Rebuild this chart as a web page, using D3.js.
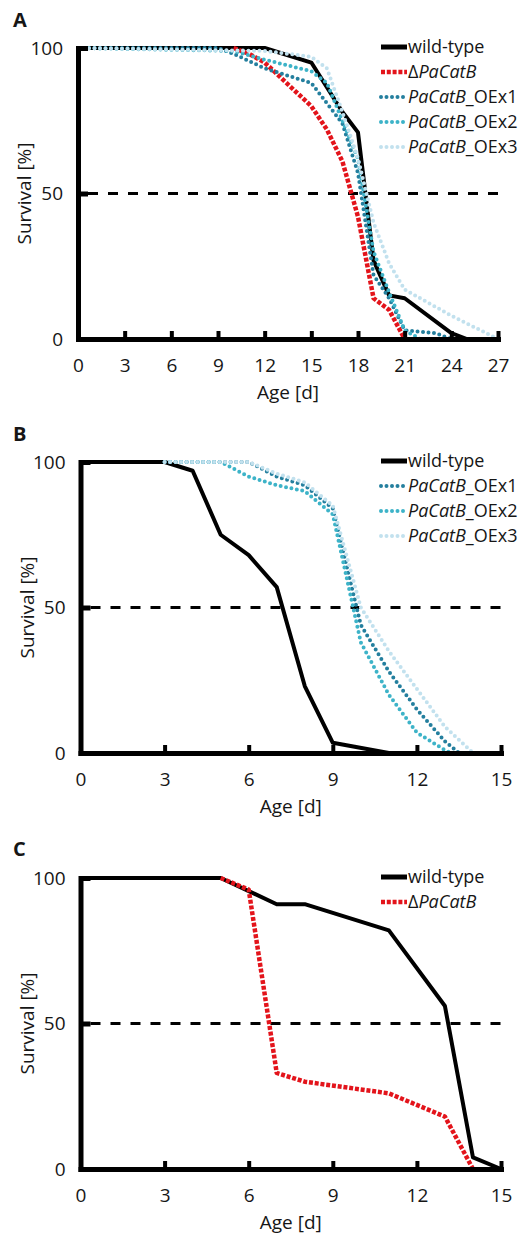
<!DOCTYPE html>
<html>
<head>
<meta charset="utf-8">
<script src="https://cdn.jsdelivr.net/npm/d3@7"></script>
<style>
  body { margin: 0; background: #fff; }
  svg { display: block; }
  text { font-family: "Open Sans", sans-serif; fill: #161616; }
</style>
</head>
<body>
<script>
// ---- panel A (ages in days, survival in %) ----
const ageA_wt   = [0, 12, 15, 17, 18, 19, 20, 21, 24, 25];
const survA_wt  = [100, 100, 95, 78, 71, 27, 15, 14, 2, 0];
const ageA_del  = [10, 11, 12, 15, 16, 17, 18, 19, 20, 21];
const survA_del = [100, 98, 95, 80, 72, 61, 42, 14, 10, 0];
const ageA_oe1  = [0, 9, 10, 12, 15, 16, 17, 18, 19, 20, 21, 23, 24];
const survA_oe1 = [100, 100, 98, 93, 88, 81, 74, 57, 22, 14, 3, 2, 0];
const ageA_oe2  = [0, 10, 12, 15, 16, 17, 18, 19, 20, 21, 22];
const survA_oe2 = [100, 99, 96, 92, 88, 75, 62, 30, 16, 3, 0];
const ageA_oe3  = [0, 12, 15, 16, 17, 18, 19, 20, 21, 24, 27];
const survA_oe3 = [100, 99, 97, 93, 78, 62, 40, 26, 17, 8, 0];

// ---- panel B ----
const ageB_wt   = [0, 3, 4, 5, 6, 7, 8, 9, 11];
const survB_wt  = [100, 100, 97, 75, 68, 57, 23, 3.5, 0];
const ageB_oe1  = [3, 6, 7, 8, 9, 10, 11, 12, 13, 13.5];
const survB_oe1 = [100, 100, 95, 92, 84, 44, 28, 15, 4, 0];
const ageB_oe2  = [3, 5, 6, 7, 8, 9, 10, 11, 12, 13, 13.2];
const survB_oe2 = [100, 100, 95, 92, 90, 82, 38, 20, 7, 1, 0];
const ageB_oe3  = [3, 6, 7, 8, 9, 10, 11, 12, 13, 14];
const survB_oe3 = [100, 100, 96, 93, 85, 50, 35, 22, 9, 0];

// ---- panel C ----
const ageC_wt   = [0, 5, 7, 8, 11, 13, 14, 15];
const survC_wt  = [100, 100, 91, 91, 82, 56, 4, 0];
const ageC_del  = [5, 6, 7, 8, 11, 13, 14];
const survC_del = [100, 96, 33, 30, 26, 18, 0];

const ticksA = [0, 3, 6, 9, 12, 15, 18, 21, 24, 27];
const ticksBC = [0, 3, 6, 9, 12, 15];
const yTicks = [0, 50, 100];

const zip = (a, b) => a.map((v, i) => [v, b[i]]);

const style = {
  wt:  { color: "#000000", width: 4,   dash: null,      cap: "butt" },
  del: { color: "#e3141b", width: 4.5, dash: "4,1.8",   cap: "butt" },
  oe1: { color: "#247f9e", width: 4,   dash: "0,5.5",   cap: "round" },
  oe2: { color: "#3db3c8", width: 4,   dash: "0,5.5",   cap: "round" },
  oe3: { color: "#c2e1ee", width: 4,   dash: "0,5.5",   cap: "round" }
};

const svg = d3.select("body").append("svg")
  .attr("width", 530).attr("height", 1236)
  .style("background", "#fff");

function legendLabel(t, key) {
  if (key === "wt") { t.text("wild-type"); return; }
  if (key === "del") {
    t.append("tspan").text("\u0394");
    t.append("tspan").attr("font-style", "italic").text("PaCatB");
    return;
  }
  t.append("tspan").attr("font-style", "italic").text("PaCatB");
  t.append("tspan").text("_OEx" + key.slice(2));
}

function drawPanel(p) {
  const x = d3.scaleLinear().domain([0, p.xmax]).range([p.left, p.right]);
  const y = d3.scaleLinear().domain([0, 100]).range([p.bottom, p.top]);
  const g = svg.append("g");

  g.append("text")
    .attr("x", 13).attr("y", p.letterY)
    .attr("font-size", 20).attr("font-weight", "bold")
    .text(p.letter);

  // 50 % reference line
  g.append("line")
    .attr("x1", x(0) + 10).attr("x2", p.right + 5)
    .attr("y1", y(50)).attr("y2", y(50))
    .attr("stroke", "#000").attr("stroke-width", 3)
    .attr("stroke-dasharray", "10,10");

  const line = d3.line().x(d => x(d[0])).y(d => y(d[1]));

  p.series.forEach(s => {
    const st = style[s.key];
    g.append("path")
      .datum(zip(s.age, s.surv))
      .attr("fill", "none")
      .attr("stroke", st.color)
      .attr("stroke-width", st.width)
      .attr("stroke-dasharray", st.dash)
      .attr("stroke-linecap", st.cap)
      .attr("stroke-linejoin", "round")
      .attr("d", line);
  });

  // axes
  const xAxis = g.append("g")
    .attr("transform", `translate(0,${p.bottom})`)
    .call(d3.axisBottom(x).tickValues(p.ticks).tickSizeInner(-8).tickSizeOuter(0).tickPadding(20));
  const yAxis = g.append("g")
    .attr("transform", `translate(${p.left},0)`)
    .call(d3.axisLeft(y).tickValues(yTicks).tickSizeInner(-10).tickSizeOuter(0).tickPadding(15));

  [xAxis, yAxis].forEach(a => {
    a.select(".domain").attr("stroke", "#000").attr("stroke-width", 5).attr("stroke-linecap", "square");
    a.selectAll("text").attr("font-size", 19).attr("font-family", null).attr("fill", "#161616");
  });
  xAxis.selectAll(".tick line").attr("stroke", "#000").attr("stroke-width", 4);
  yAxis.selectAll(".tick line").attr("stroke", "#000").attr("stroke-width", 5);

  g.append("text")
    .attr("x", (p.left + p.right) / 2).attr("y", p.bottom + 60)
    .attr("text-anchor", "middle").attr("font-size", 19)
    .text("Age [d]");

  g.append("text")
    .attr("transform", `translate(${p.left - 47},${y(50)}) rotate(-90)`)
    .attr("text-anchor", "middle").attr("font-size", 19)
    .text("Survival [%]");

  // legend
  p.series.forEach((s, i) => {
    const ly = p.legendY + i * 25;
    const st = style[s.key];
    g.append("line")
      .attr("x1", 381).attr("x2", 407).attr("y1", ly).attr("y2", ly)
      .attr("stroke", st.color)
      .attr("stroke-width", s.key === "wt" ? 5 : st.width)
      .attr("stroke-dasharray", st.dash)
      .attr("stroke-linecap", st.cap);
    const t = g.append("text")
      .attr("x", 408).attr("y", ly).attr("dy", "0.35em")
      .attr("font-size", 18);
    legendLabel(t, s.key);
  });
}

drawPanel({
  letter: "A", letterY: 27, xmax: 27, ticks: ticksA,
  left: 78, right: 498, top: 48, bottom: 339, legendY: 47,
  series: [
    { key: "wt",  age: ageA_wt,  surv: survA_wt },
    { key: "del", age: ageA_del, surv: survA_del },
    { key: "oe1", age: ageA_oe1, surv: survA_oe1 },
    { key: "oe2", age: ageA_oe2, surv: survA_oe2 },
    { key: "oe3", age: ageA_oe3, surv: survA_oe3 }
  ]
});

drawPanel({
  letter: "B", letterY: 441, xmax: 15, ticks: ticksBC,
  left: 80.5, right: 501, top: 462, bottom: 753, legendY: 461,
  series: [
    { key: "wt",  age: ageB_wt,  surv: survB_wt },
    { key: "oe1", age: ageB_oe1, surv: survB_oe1 },
    { key: "oe2", age: ageB_oe2, surv: survB_oe2 },
    { key: "oe3", age: ageB_oe3, surv: survB_oe3 }
  ]
});

drawPanel({
  letter: "C", letterY: 856, xmax: 15, ticks: ticksBC,
  left: 80.5, right: 501, top: 878, bottom: 1169, legendY: 877,
  series: [
    { key: "wt",  age: ageC_wt,  surv: survC_wt },
    { key: "del", age: ageC_del, surv: survC_del }
  ]
});
</script>
</body>
</html>
